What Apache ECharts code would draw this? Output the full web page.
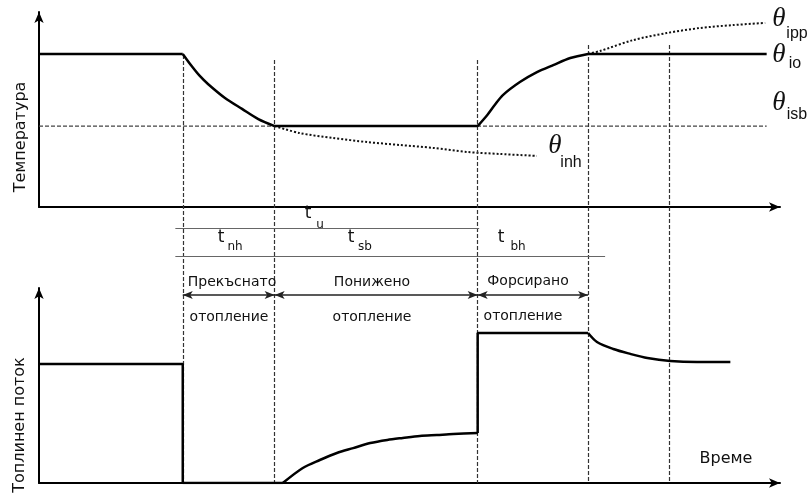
<!DOCTYPE html>
<html>
<head>
<meta charset="utf-8">
<title>Температура и топлинен поток</title>
<script src="https://cdn.jsdelivr.net/npm/echarts@6/dist/echarts.min.js"></script>
<style>
    html, body { margin: 0; padding: 0; background: #fff; }
    #main { width: 807px; height: 495px; }
</style>
</head>
<body>
<div id="main"></div>
<script type="text/javascript">
// time in arbitrary units (0..100 along the time axis)
var phaseTimes = [19.4, 31.8, 59.2, 74.1, 85.0];
var timeEnd = 98.2;

// temperature levels
var tempNormal = 78.5, tempSetback = 41.5;
// cooling after heating is cut off
var tempCooldown = [[19.4, 78.5], [20.6, 72.3], [21.7, 67.2], [22.8, 63.1], [25.1, 55.9], [27.4, 50.3],
    [29.6, 45.1], [31.8, 41.5]];
// boost recovery
var tempRecovery = [[59.2, 41.5], [60.5, 47.2], [61.5, 52.3], [62.6, 57.4], [64.9, 64.1], [67.2, 69.2],
    [69.4, 72.8], [71.7, 76.4], [74.1, 78.5]];
// theta_inh: free cooling without setback heating (dotted)
var tempNoHeat = [[31.8, 41.5], [35.2, 37.9], [39.7, 35.4], [44.3, 33.3], [48.7, 31.8], [53.2, 30.3],
    [57.8, 28.2], [62.2, 27.2], [67.2, 26.2]];
// theta_ipp: boost continued (dotted)
var tempBoost = [[74.1, 78.5], [75.7, 80.0], [80.2, 85.6], [84.7, 89.2], [89.2, 91.8], [93.7, 93.3], [98.0, 94.4]];

// heat flow levels
var flowNormal = 61.0, flowBoost = 76.9;
var flowSetback = [[32.9, 0], [35.6, 7.7], [37.9, 11.8], [40.2, 15.4], [42.4, 17.9], [44.7, 20.5],
    [47.0, 22.1], [49.1, 23.1], [51.4, 24.1], [53.7, 24.6], [55.9, 25.1], [59.2, 25.6]];
var flowAfterBoost = [[74.1, 76.9], [75.3, 72.3], [77.5, 68.7], [79.8, 66.2], [82.1, 64.1], [85.2, 62.6],
    [88.8, 62.1], [93.3, 62.1]];

var phaseNames = ['Прекъснато', 'Понижено', 'Форсирано'];
var periodLabels = ['u', 'nh', 'sb', 'bh'];

// layout of the middle band (page px, overlay grid uses px on its y axis)
var vTops = [55, 60, 60, 45, 45];
var vBottom = 483;
var rowU = 228, rowSub = 256, rowArrow = 295;

var chart = echarts.init(document.getElementById('main'));

function axisPair(grid) {
    var line = { show: true, symbol: ['none', 'arrow'], symbolSize: [7, 11], lineStyle: { color: '#000', width: 2 } };
    return {
        x: {
            type: 'value', gridIndex: grid, min: 0, max: 100, axisLine: line,
            axisTick: { show: false }, axisLabel: { show: false }, splitLine: { show: false }
        },
        y: {
            type: 'value', gridIndex: grid, min: 0, max: 100, axisLine: line,
            axisTick: { show: false }, axisLabel: { show: false }, splitLine: { show: false }
        }
    };
}
var tempAxes = axisPair(0), flowAxes = axisPair(1);

var vLines = phaseTimes.map(function (t, i) {
    return [{ coord: [t, vTops[i]] }, { coord: [t, vBottom] }];
});
var hLines = [
    [{ coord: [18.4, rowU] }, { coord: [59.4, rowU] }],
    [{ coord: [18.4, rowSub] }, { coord: [76.4, rowSub] }]
];
var arrows = [
    [{ coord: [phaseTimes[0], rowArrow] }, { coord: [phaseTimes[1], rowArrow] }],
    [{ coord: [phaseTimes[1], rowArrow] }, { coord: [phaseTimes[2], rowArrow] }],
    [{ coord: [phaseTimes[2], rowArrow] }, { coord: [phaseTimes[3], rowArrow] }]
];

var lbl = '14px "DejaVu Sans"';
function txt(s, x, y, font, extra) {
    var o = { type: 'text', x: x, y: y, z: 100,
        style: { text: s, font: font, fill: '#111', align: 'center', verticalAlign: 'middle' } };
    if (extra) for (var k in extra) o[k] = extra[k];
    return o;
}
var thetaFont = 'italic 27px "Liberation Serif"';
var subFont = '16px "Liberation Sans"';
var tFont = '17px "DejaVu Sans"';
var tSub = '12px "DejaVu Sans"';

var graphics = [
    txt('Температура', 21, 137, '16px "DejaVu Sans"', { rotation: Math.PI / 2 }),
    txt('Топлинен поток', 20, 425, '16px "DejaVu Sans"', { rotation: Math.PI / 2 }),
    txt('θ', 779, 19, thetaFont), txt('ipp', 797, 34, subFont),
    txt('θ', 779, 55, thetaFont), txt('io', 795, 64, subFont),
    txt('θ', 779, 103, thetaFont), txt('isb', 797, 115, subFont),
    txt('θ', 555, 146, thetaFont), txt('inh', 571, 163, subFont),
    txt('t', 308, 214, tFont), txt(periodLabels[0], 320, 225, tSub),
    txt('t', 221, 238, tFont), txt(periodLabels[1], 235, 247, tSub),
    txt('t', 351, 238, tFont), txt(periodLabels[2], 365, 247, tSub),
    txt('t', 501, 238, tFont), txt(periodLabels[3], 518, 247, tSub),
    txt(phaseNames[0], 232, 282, lbl), txt('отопление', 229, 317, lbl),
    txt(phaseNames[1], 372, 282, lbl), txt('отопление', 372, 317, lbl),
    txt(phaseNames[2], 528, 281, lbl), txt('отопление', 523, 316, lbl),
    txt('Време', 726, 459, '16px "DejaVu Sans"')
];

function solid(gi, data, smooth) {
    return {
        type: 'line', xAxisIndex: gi, yAxisIndex: gi, data: data, smooth: smooth ? 0.3 : false,
        symbol: 'none', lineStyle: { color: '#000', width: 2.5 }, z: 5
    };
}

var option = {
    animation: false,
    grid: [
        { left: 39, right: 27, top: 12, height: 195 },
        { left: 39, right: 27, top: 288, height: 195 },
        { left: 39, right: 27, top: 0, bottom: 0 }
    ],
    xAxis: [tempAxes.x, flowAxes.x, { type: 'value', gridIndex: 2, min: 0, max: 100, show: false }],
    yAxis: [tempAxes.y, flowAxes.y, { type: 'value', gridIndex: 2, min: 0, max: 495, inverse: true, show: false }],
    graphic: graphics,
    series: [
        {
            type: 'line', xAxisIndex: 2, yAxisIndex: 2, data: [], silent: true,
            markLine: {
                silent: true, symbol: ['none', 'none'], label: { show: false },
                lineStyle: { color: '#333', width: 1.2, type: [4, 2] },
                data: vLines
            }
        },
        {
            type: 'line', xAxisIndex: 2, yAxisIndex: 2, data: [], silent: true,
            markLine: {
                silent: true, symbol: ['none', 'none'], label: { show: false },
                lineStyle: { color: '#666', width: 1, type: 'solid' },
                data: hLines
            }
        },
        {
            type: 'line', xAxisIndex: 2, yAxisIndex: 2, data: [], silent: true,
            markLine: {
                silent: true, symbol: ['arrow', 'arrow'], symbolSize: [6, 10], label: { show: false },
                lineStyle: { color: '#222', width: 1.5, type: 'solid' },
                data: arrows
            }
        },
        {
            type: 'line', xAxisIndex: 0, yAxisIndex: 0, data: [[0, tempSetback], [timeEnd, tempSetback]],
            symbol: 'none', lineStyle: { color: '#444', width: 1.3, type: [4, 2] }, z: 1
        },
        {
            type: 'line', xAxisIndex: 0, yAxisIndex: 0, data: tempNoHeat, smooth: 0.3,
            symbol: 'none', lineStyle: { color: '#111', width: 2, type: [2, 2] }
        },
        {
            type: 'line', xAxisIndex: 0, yAxisIndex: 0, data: tempBoost, smooth: 0.3,
            symbol: 'none', lineStyle: { color: '#111', width: 2, type: [2, 2] }
        },
        // temperature
        solid(0, [[0, tempNormal], [phaseTimes[0], tempNormal]]),
        solid(0, tempCooldown, true),
        solid(0, [[phaseTimes[1], tempSetback], [phaseTimes[2], tempSetback]]),
        solid(0, tempRecovery, true),
        solid(0, [[phaseTimes[3], tempNormal], [timeEnd, tempNormal]]),
        // heat flow
        solid(1, [[0, flowNormal], [phaseTimes[0], flowNormal], [phaseTimes[0], 0], [flowSetback[0][0], 0]]),
        solid(1, flowSetback, true),
        solid(1, [[phaseTimes[2], flowSetback[flowSetback.length - 1][1]], [phaseTimes[2], flowBoost], [phaseTimes[3], flowBoost]]),
        solid(1, flowAfterBoost, true)
    ]
};
chart.setOption(option);
</script>
</body>
</html>
